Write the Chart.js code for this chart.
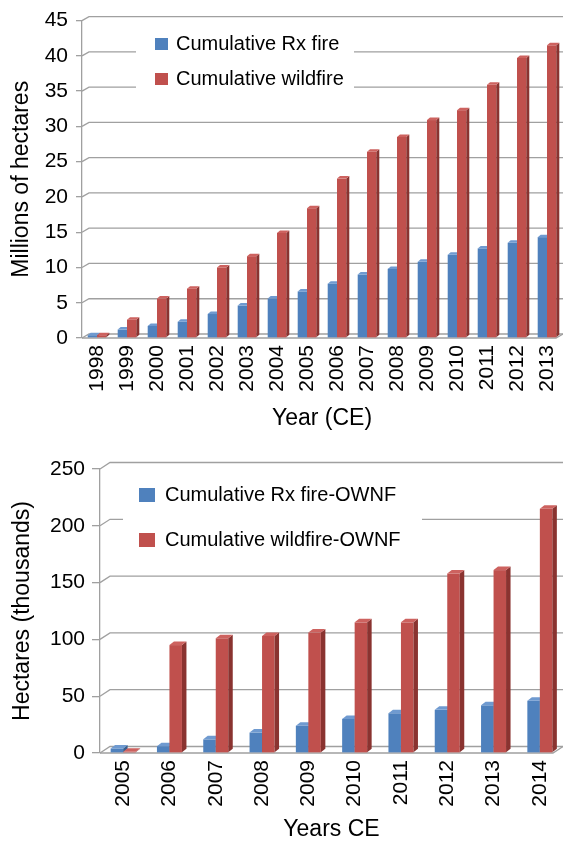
<!DOCTYPE html>
<html>
<head>
<meta charset="utf-8">
<script src="https://cdn.jsdelivr.net/npm/chart.js@4.4.1/dist/chart.umd.min.js"></script>
<style>
  body { margin: 0; background: #fff; }
  #top { position: absolute; left: 0; top: 0; width: 563px; height: 440px; }
  #bottom { position: absolute; left: 0; top: 440px; width: 563px; height: 405px; }
</style>
</head>
<body>
<div id="top"><canvas id="topChart"></canvas></div>
<div id="bottom"><canvas id="bottomChart"></canvas></div>
<script>
// panel 1 - all lands
const years1 = ["1998", "1999", "2000", "2001", "2002", "2003", "2004", "2005",
  "2006", "2007", "2008", "2009", "2010", "2011", "2012", "2013"];
const rxFire = [0.4, 1.2, 1.7, 2.3, 3.4, 4.6, 5.6, 6.6, 7.7, 9.0, 9.8, 10.8, 11.8, 12.7, 13.5, 14.3];
const wildfire = [0.4, 2.6, 5.6, 7.0, 10.0, 11.6, 14.9, 18.4, 22.6, 26.4, 28.5, 30.9, 32.3, 35.9, 39.7, 41.5];

// panel 2 - OWNF
const years2 = ["2005", "2006", "2007", "2008", "2009", "2010", "2011", "2012", "2013", "2014"];
const rxOwnf = [4, 6, 12, 18, 24, 30, 35, 38, 42, 46];
const wildOwnf = [1, 95, 101, 103, 106, 115, 115, 158, 161, 215];

const BLUE = { front: "#4f81bd", top: "#6f9ad0", side: "#395f8e" };
const RED = { front: "#c0504d", top: "#cd625f", side: "#8a3330" };
const FONT = "'Liberation Sans', Arial, sans-serif";

function poly(ctx, pts) {
  ctx.beginPath();
  ctx.moveTo(pts[0][0], pts[0][1]);
  for (let i = 1; i < pts.length; i++) ctx.lineTo(pts[i][0], pts[i][1]);
  ctx.closePath();
  ctx.fill();
}

function drawBar(ctx, b, c, dx, dy) {
  const x = b.x - b.width / 2, w = b.width, top = b.y, base = b.base;
  ctx.fillStyle = c.front;
  ctx.fillRect(x, top, w, base - top);
  ctx.fillStyle = c.side;
  poly(ctx, [[x + w, top], [x + w + dx, top - dy], [x + w + dx, base - dy], [x + w, base]]);
  ctx.fillStyle = c.top;
  poly(ctx, [[x, top], [x + w, top], [x + w + dx, top - dy], [x + dx, top - dy]]);
}

// back wall, floor, legend and 3d-ish bars
const fake3d = {
  id: "fake3d",
  beforeDatasetsDraw(chart, args, o) {
    const ctx = chart.ctx, a = chart.chartArea, y = chart.scales.y;
    ctx.save();
    ctx.strokeStyle = "#a0a0a0";
    ctx.lineWidth = 1.3;
    y.ticks.forEach(t => {
      const py = y.getPixelForValue(t.value);
      ctx.beginPath();
      ctx.moveTo(a.left, py);
      ctx.lineTo(a.left + o.wx, py - o.wy);
      ctx.lineTo(chart.width, py - o.wy);
      ctx.stroke();
    });
    const z = y.getPixelForValue(0);
    ctx.beginPath();
    ctx.moveTo(a.left, z);
    ctx.lineTo(chart.width - o.wx, z);
    ctx.lineTo(chart.width, z - o.wy);
    ctx.stroke();

    // legend
    const L = o.legend;
    ctx.fillStyle = "#fff";
    ctx.fillRect(L.x, L.y, L.w, L.h);
    ctx.font = "20px " + FONT;
    ctx.textBaseline = "middle";
    chart.data.datasets.forEach((ds, i) => {
      const cy = L.rows[i];
      ctx.fillStyle = ds.backgroundColor;
      ctx.fillRect(L.sx, cy - L.sh / 2, L.sw, L.sh);
      ctx.fillStyle = "#000";
      ctx.fillText(ds.label, L.tx, cy);
    });

    const m0 = chart.getDatasetMeta(0), m1 = chart.getDatasetMeta(1);
    m0.data.forEach((b, i) => {
      drawBar(ctx, b, BLUE, o.bx, o.by);
      drawBar(ctx, m1.data[i], RED, o.bx, o.by);
    });
    ctx.restore();
    return false;
  }
};

function makeChart(id, labels, s1, s2, names, cfg) {
  return new Chart(document.getElementById(id), {
    type: "bar",
    data: {
      labels: labels,
      datasets: [
        { label: names[0], data: s1, backgroundColor: BLUE.front },
        { label: names[1], data: s2, backgroundColor: RED.front }
      ]
    },
    plugins: [fake3d],
    options: {
      responsive: true,
      maintainAspectRatio: false,
      animation: false,
      datasets: { bar: { categoryPercentage: cfg.catPct, barPercentage: 1 } },
      layout: { padding: cfg.pad },
      scales: {
        x: {
          grid: { display: false, drawTicks: false },
          border: { display: false },
          ticks: { color: "#000", font: { family: FONT, size: 21 }, minRotation: 90, maxRotation: 90, padding: 7, autoSkip: false },
          title: { display: true, text: cfg.xTitle, color: "#000", font: { family: FONT, size: 23 }, padding: 0 },
          afterFit: s => { s.height = cfg.xH; s.paddingLeft = 0; s.paddingRight = 0; }
        },
        y: {
          min: 0, max: cfg.max,
          grid: { drawOnChartArea: false, color: "#a0a0a0", tickLength: cfg.tickLen, lineWidth: 1.3 },
          border: { color: "#a0a0a0", width: 1.3 },
          ticks: { stepSize: cfg.step, color: "#000", font: { family: FONT, size: 21 }, padding: cfg.tickPad },
          title: { display: true, text: cfg.yTitle, color: "#000", font: { family: FONT, size: 23 }, padding: 0 },
          afterFit: s => { s.width = cfg.yW; }
        }
      },
      plugins: {
        legend: { display: false },
        tooltip: { enabled: false },
        fake3d: cfg.fx
      }
    }
  });
}

makeChart("topChart", years1, rxFire, wildfire,
  ["Cumulative Rx fire", "Cumulative wildfire"], {
    catPct: 0.62, max: 45, step: 5, tickLen: 6, tickPad: 8,
    xTitle: "Year (CE)", yTitle: "Millions of hectares",
    pad: { top: 17, left: 8, right: 1, bottom: 8 }, xH: 94, yW: 74,
    fx: {
      wx: 7, wy: 4, bx: 3, by: 2.5,
      legend: { x: 136, y: 25, w: 218, h: 75, sx: 155, sw: 13, sh: 12, tx: 176, rows: [44, 79] }
    }
  });

makeChart("bottomChart", years2, rxOwnf, wildOwnf,
  ["Cumulative Rx fire-OWNF", "Cumulative wildfire-OWNF"], {
    catPct: 0.54, max: 250, step: 50, tickLen: 8, tickPad: 7,
    xTitle: "Years CE", yTitle: "Hectares (thousands)",
    pad: { top: 29, left: 9, right: 0, bottom: 2 }, xH: 90, yW: 91,
    fx: {
      wx: 10, wy: 6.5, bx: 4.5, by: 3.5,
      legend: { x: 123, y: 35, w: 299, h: 85, sx: 139, sw: 16, sh: 14, tx: 165, rows: [55, 100] }
    }
  });
</script>
</body>
</html>
